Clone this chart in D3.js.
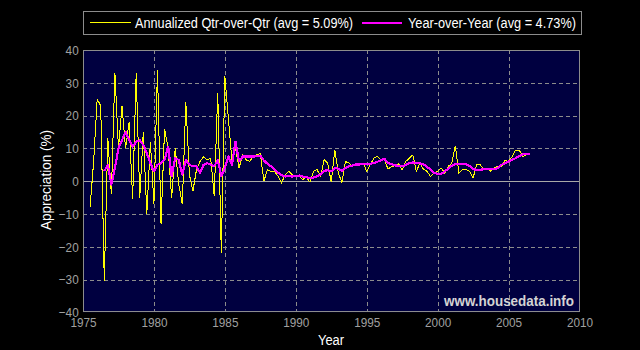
<!DOCTYPE html>
<html>
<head>
<meta charset="utf-8">
<script src="https://cdn.jsdelivr.net/npm/d3@7"></script>
<style>
  html, body { margin: 0; padding: 0; background: #000; }
  svg { display: block; }
  text { font-family: 'Liberation Sans', Arial, Helvetica, sans-serif; }
</style>
</head>
<body>
<svg id="chart" width="640" height="350"></svg>
<script>
'use strict';

/* globals d3 */

// quarterly series; first qoq point is 1975.5, first yoy point is 1976.5
var QOQ_START = 1975.5;
var YOY_START = 1976.5;

var qoqValues = [
    -8, 6, 25, 23, -30.5, 13, -4, 33, 10, 23, 10, 18, -5.5, 33, -5, 15, -10, 12, -7, 34,
    -13, 16, 10, -5, 10, -1, -7, 24, 2, -3, 3.5, 6, 7.5, 6.5, 7, -4.5, 27, -22, 32, 19,
    6, 10, 4, 8, 6.5, 6, 7.5, 8, 8.5, 0, 3.5, 3, 3, 1.5, -0.5, 2, 3, 2, 1.5, 1.5,
    0.5, 1.2, -0.3, 3, 3.5, 1.5, 6.5, 5.5, -0.3, 9.5, 2.5, -0.5, 6, 5.5, 4.5, 5, 5.5, 5.5, 3, 5,
    7, 7.5, 6.5, 6.5, 3.7, 4.5, 4.7, 5.3, 3.5, 6, 7, 8, 3, 5.5, 3.6, 3, 1.4, 2.5, 3, 4,
    2.5, 4.5, 5.5, 10.8, 2.4, 3.5, 3.5, 3, 1, 5, 5, 3.5, 4, 3, 4, 4.5, 4.5, 6.3, 6, 7.5,
    9.5, 9.5, 7.5, 8, 8.5
];

var yoyValues = [
    3, 5, -1, 4, 10, 12.5, 15, 12.5, 10.5, 12, 12.5, 11, 8.5, 5.5, 3, 5, 5.5, 6.5, 10.5, 1.5,
    7, 6.5, 2, 6.5, 5, 4.5, 4.5, 2.5, 5, 5.5, 5, 4.5, 6.5, 1.5, 4, 7.5, 5, 12, 6, 7.5,
    7.5, 7.5, 7.5, 7.6, 7.8, 6.3, 5.3, 4.5, 3.5, 2.6, 1.8, 1.4, 1.6, 1.4, 1.6, 1.7, 1.4, 1.2, 0.9, 1.1,
    1.5, 2, 3.2, 3.3, 3, 4, 3.8, 3.2, 4, 4.5, 4.8, 5.1, 5.1, 5.2, 5.2, 5.3, 5.5, 5.9, 6.4, 6.8,
    5.6, 5.2, 4.8, 4.7, 4.5, 5, 5.5, 5.7, 5.6, 5.5, 5.1, 4.4, 3.5, 2.6, 2.2, 2.2, 3, 3.8, 4.7, 5.2,
    5.3, 5.3, 5.1, 4.7, 3.6, 3.5, 3.5, 3.6, 3.6, 3.6, 3.6, 4, 5, 5.5, 6, 6.5, 7, 7.7, 8.2, 8.3,
    8.3
];

var xTicks = [1975, 1980, 1985, 1990, 1995, 2000, 2005, 2010];
var yTicks = [-40, -30, -20, -10, 0, 10, 20, 30, 40];
var legendLabels = ['Annualized Qtr-over-Qtr (avg = 5.09%)', 'Year-over-Year (avg = 4.73%)'];
var seriesColors = ['#ffff00', '#ff00ff'];

var PLOT = { left: 83, right: 579.5, top: 50, bottom: 312.3 };
var GRID_COLOR = '#8c8c8c';
var TICK_COLOR = '#a0a0a0';
// the original font is a narrow helvetica, so squeeze the tick labels a bit
var NARROW = 'scale(0.87,1)';

function toPoints(start, values) {
    return values.map(function(v, i) {
        return { year: start + i / 4, value: v };
    });
}

var svg = d3.select('#chart');

var x = d3.scaleLinear().domain([1975, 2010]).range([PLOT.left, PLOT.right]);
var y = d3.scaleLinear().domain([-40, 40]).range([PLOT.bottom, PLOT.top]);

svg.append('rect')
    .attr('width', 640)
    .attr('height', 350)
    .attr('fill', '#000');

// plot background
svg.append('rect')
    .attr('x', PLOT.left)
    .attr('y', PLOT.top)
    .attr('width', PLOT.right - PLOT.left)
    .attr('height', PLOT.bottom - PLOT.top)
    .attr('fill', '#000040');

// dashed grid
svg.append('g').selectAll('line')
    .data(xTicks.slice(1, -1))
    .enter().append('line')
    .attr('x1', function(d) { return Math.round(x(d)) + 0.5; })
    .attr('x2', function(d) { return Math.round(x(d)) + 0.5; })
    .attr('y1', PLOT.top)
    .attr('y2', PLOT.bottom)
    .attr('stroke', GRID_COLOR)
    .attr('stroke-dasharray', '4,3')
    .attr('shape-rendering', 'crispEdges');

svg.append('g').selectAll('line')
    .data(yTicks.filter(function(d) { return d !== 0 && d !== 40 && d !== -40; }))
    .enter().append('line')
    .attr('x1', PLOT.left)
    .attr('x2', PLOT.right)
    .attr('y1', function(d) { return Math.round(y(d)) + 0.5; })
    .attr('y2', function(d) { return Math.round(y(d)) + 0.5; })
    .attr('stroke', GRID_COLOR)
    .attr('stroke-dasharray', '4,3')
    .attr('shape-rendering', 'crispEdges');

// zero line
svg.append('line')
    .attr('x1', PLOT.left)
    .attr('x2', PLOT.right)
    .attr('y1', Math.round(y(0)) + 0.5)
    .attr('y2', Math.round(y(0)) + 0.5)
    .attr('stroke', '#a8a8a8')
    .attr('shape-rendering', 'crispEdges');

// data lines
var line = d3.line()
    .x(function(d) { return x(d.year); })
    .y(function(d) { return y(d.value); });

svg.append('path')
    .datum(toPoints(QOQ_START, qoqValues))
    .attr('d', line)
    .attr('fill', 'none')
    .attr('stroke', seriesColors[0])
    .attr('stroke-width', 1)
    .attr('shape-rendering', 'crispEdges');

svg.append('path')
    .datum(toPoints(YOY_START, yoyValues))
    .attr('d', line)
    .attr('fill', 'none')
    .attr('stroke', seriesColors[1])
    .attr('stroke-width', 2.2)
    .attr('stroke-linejoin', 'round')
    .attr('shape-rendering', 'crispEdges');

// frame
svg.append('rect')
    .attr('x', PLOT.left + 0.5)
    .attr('y', PLOT.top + 0.5)
    .attr('width', PLOT.right - PLOT.left - 1)
    .attr('height', PLOT.bottom - PLOT.top - 1)
    .attr('fill', 'none')
    .attr('stroke', '#8c8c8c')
    .attr('shape-rendering', 'crispEdges');

// axes (labels only)
var xAxis = svg.append('g')
    .attr('transform', 'translate(0,' + PLOT.bottom + ')')
    .call(d3.axisBottom(x).tickValues(xTicks).tickFormat(d3.format('d')).tickSize(0).tickPadding(5));

var yAxis = svg.append('g')
    .attr('transform', 'translate(' + PLOT.left + ',0)')
    .call(d3.axisLeft(y).tickValues(yTicks).tickSize(0).tickPadding(5));

[xAxis, yAxis].forEach(function(axis) {
    axis.select('.domain').remove();
    axis.selectAll('text')
        .attr('fill', TICK_COLOR)
        .attr('transform', NARROW)
        .style('font-size', '13.5px')
        .style('font-family', null);
});

svg.append('text')
    .attr('x', 331)
    .attr('y', 345)
    .attr('text-anchor', 'middle')
    .attr('fill', '#fff')
    .attr('textLength', 26)
    .attr('lengthAdjust', 'spacingAndGlyphs')
    .style('font-size', '14px')
    .text('Year');

svg.append('text')
    .attr('transform', 'translate(51,180) rotate(-90)')
    .attr('text-anchor', 'middle')
    .attr('fill', '#fff')
    .attr('textLength', 100)
    .attr('lengthAdjust', 'spacingAndGlyphs')
    .style('font-size', '14px')
    .text('Appreciation (%)');

// watermark
svg.append('text')
    .attr('x', 574)
    .attr('y', 306)
    .attr('text-anchor', 'end')
    .attr('fill', '#d4d4d4')
    .attr('textLength', 130)
    .attr('lengthAdjust', 'spacingAndGlyphs')
    .style('font-size', '14px')
    .style('font-weight', 'bold')
    .text('www.housedata.info');

// legend
var legend = svg.append('g');

legend.append('rect')
    .attr('x', 83.5)
    .attr('y', 11.5)
    .attr('width', 498)
    .attr('height', 23)
    .attr('fill', '#000')
    .attr('stroke', '#8c8c8c')
    .attr('shape-rendering', 'crispEdges');

var legendItems = [
    { x1: 90, x2: 131, tx: 135, len: 218, width: 1 },
    { x1: 362, x2: 402, tx: 408, len: 168, width: 2 }
];

legendItems.forEach(function(item, i) {
    legend.append('line')
        .attr('x1', item.x1)
        .attr('x2', item.x2)
        .attr('y1', 22.5)
        .attr('y2', 22.5)
        .attr('stroke', seriesColors[i])
        .attr('stroke-width', item.width)
        .attr('shape-rendering', 'crispEdges');

    legend.append('text')
        .attr('x', item.tx)
        .attr('y', 27.5)
        .attr('fill', '#fff')
        .attr('textLength', item.len)
        .attr('lengthAdjust', 'spacingAndGlyphs')
        .style('font-size', '14px')
        .text(legendLabels[i]);
});
</script>
</body>
</html>
